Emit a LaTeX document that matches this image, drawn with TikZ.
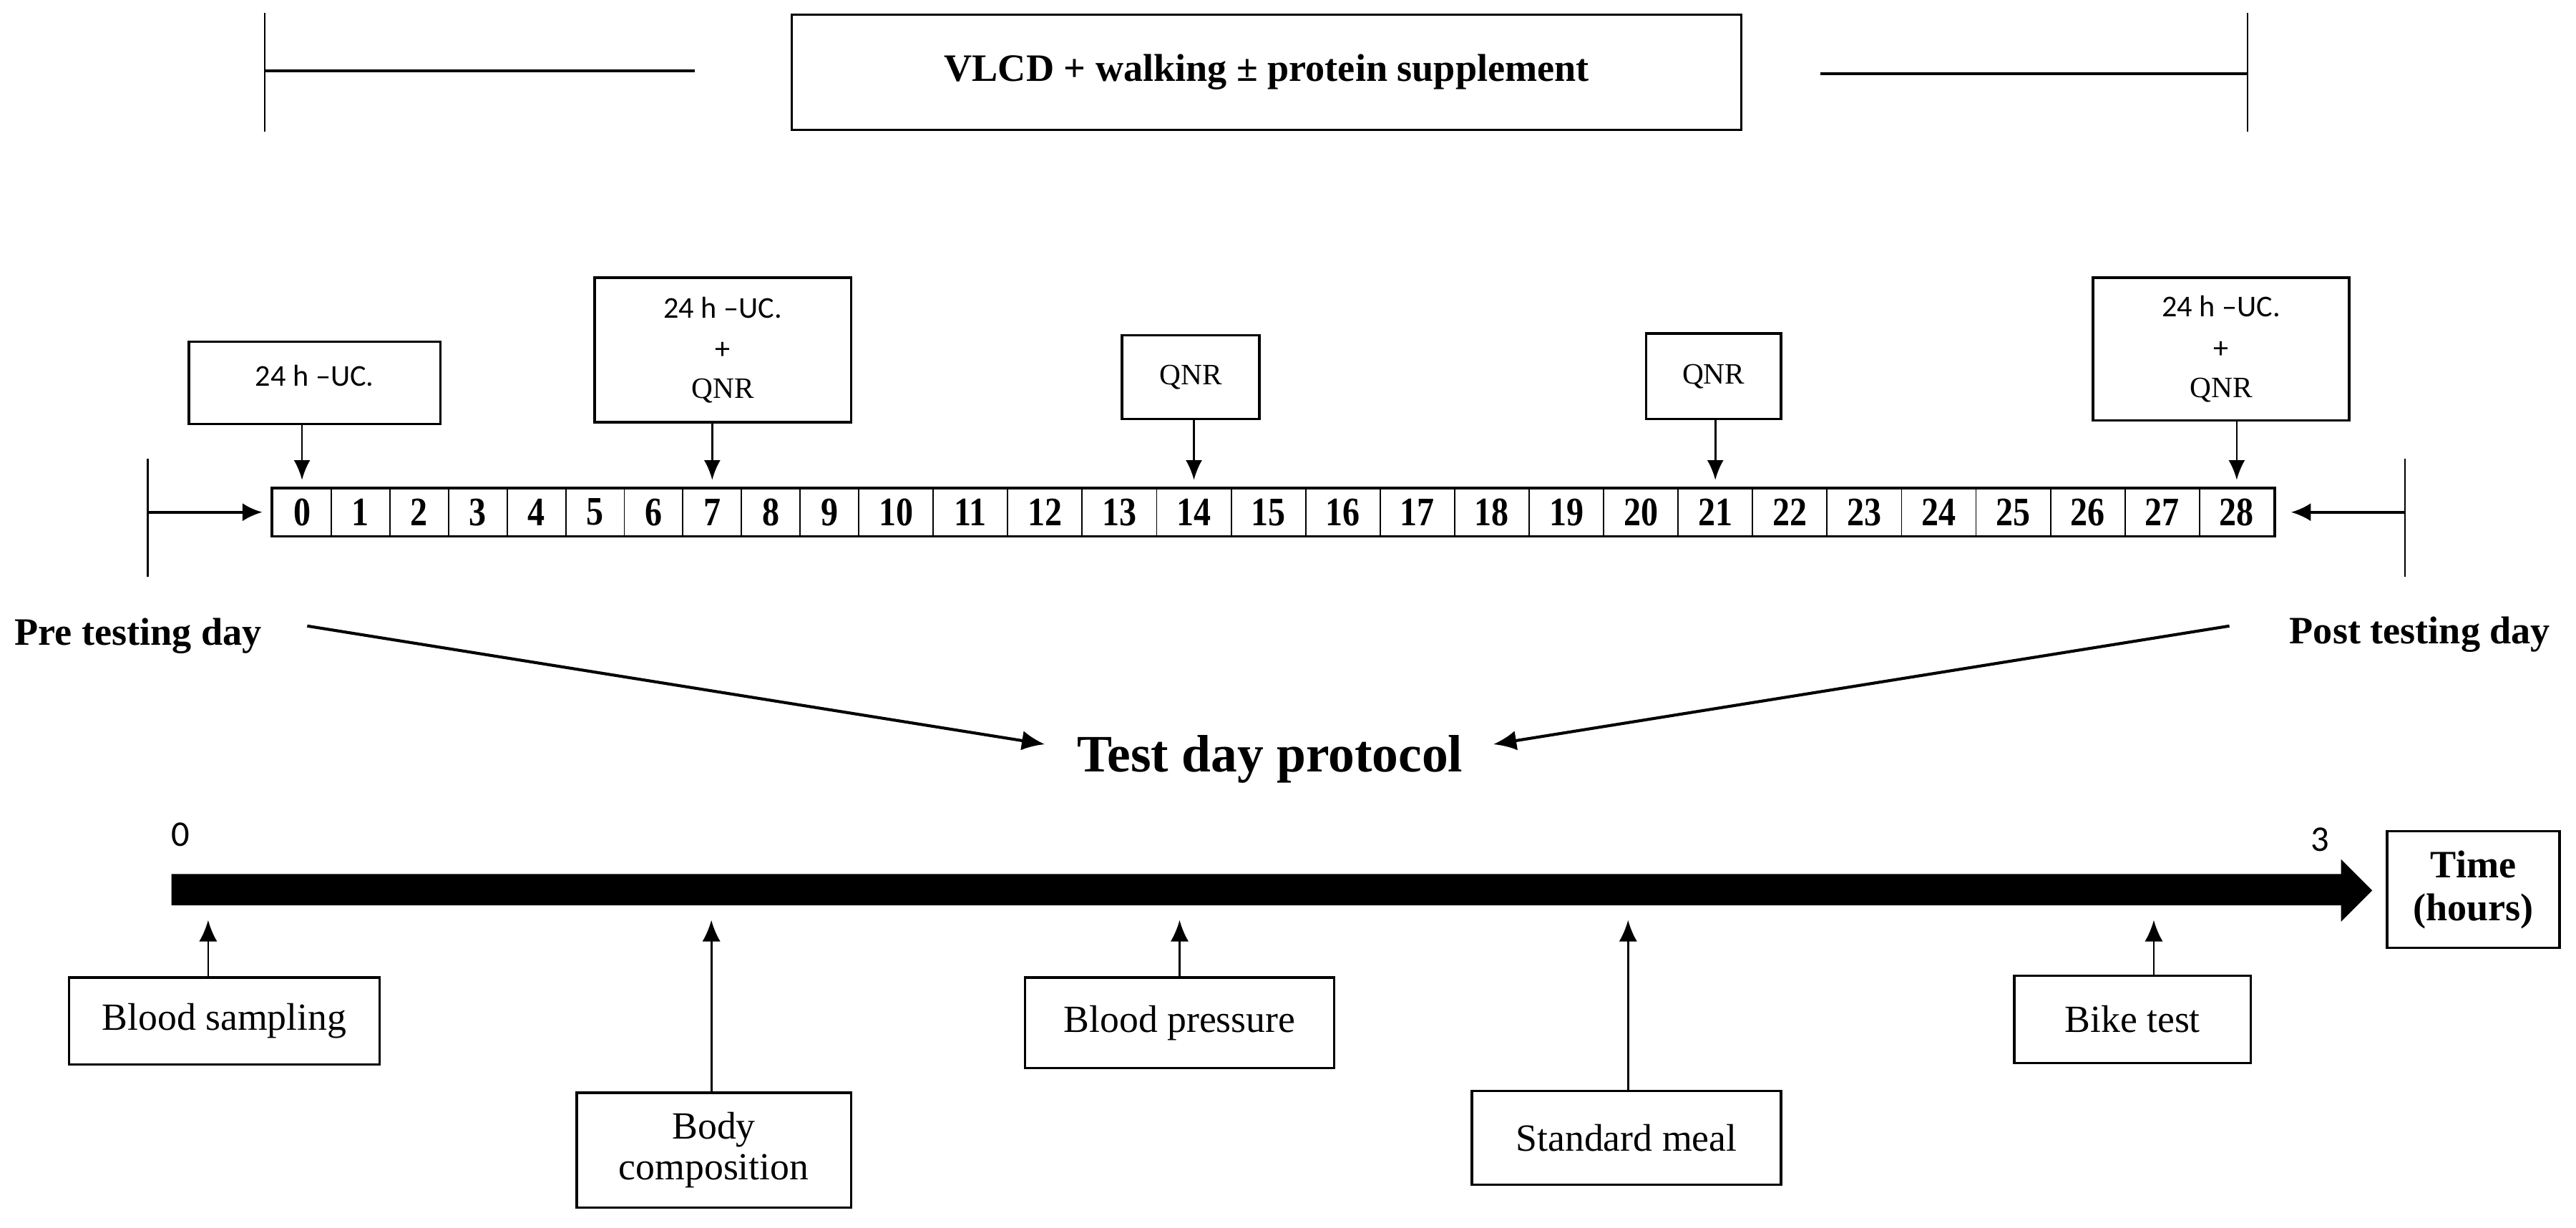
\documentclass[tikz,border=0pt]{standalone}
\usepackage{fontspec}
\setmainfont{Liberation Serif}
\newfontfamily\calfont{Carlito}
\newfontfamily\cellfont[FakeStretch=0.85]{Liberation Serif}
\usetikzlibrary{arrows.meta}
\begin{document}
\begin{tikzpicture}[x=0.5pt,y=-0.5pt,
  every node/.style={inner sep=0pt},
  box/.style={draw,line width=0.75pt,align=center},
  thinline/.style={line width=0.5pt},
  midline/.style={line width=0.8pt},
  arr/.style={line width=0.6pt,-{Latex[length=6pt,width=5pt]}},
  uparr/.style={line width=0.6pt,-{Latex[length=6.5pt,width=5.5pt]}},
  diag/.style={line width=0.9pt,-{Latex[length=7pt,width=6pt]}},
  tnr/.style={font=\fontsize{11.7pt}{12.5pt}\selectfont},
  tnrb/.style={font=\fontsize{11.8pt}{13pt}\selectfont\bfseries},
  cal/.style={font=\fontsize{9.2pt}{11.5pt}\selectfont\calfont},
  qnr/.style={font=\fontsize{9pt}{11.5pt}\selectfont},
  cell/.style={draw,line width=0.4pt,minimum height=14.25pt,font=\fontsize{12.3pt}{13pt}\selectfont\cellfont\bfseries}
]
\useasboundingbox (0,0) rectangle (1568,747);

% ---- top bracket ----
\node[box,minimum width=289pt,minimum height=35pt,tnrb] (vlcd) at (771,44) {VLCD + walking ± protein supplement};
\coordinate (tl1) at (161,8);  \coordinate (tl2) at (161,80);
\coordinate (tr1) at (1368,8); \coordinate (tr2) at (1368,80);
\draw[thinline] (tl1) -- (tl2);
\draw[thinline] (tr1) -- (tr2);
\coordinate (tlh) at (423,43); \coordinate (trh) at (1108,45);
\draw[midline] (tl1 |- tlh) -- (tlh);
\draw[midline] (trh) -- (tr1 |- trh);

% ---- upper boxes ----
\node[box,minimum width=76.5pt,minimum height=25pt,cal] (bA) at (191.5,233) {\raisebox{0pt}[\height][\dimexpr\depth+4.5pt]{24 h –UC.}};
\node[box,minimum width=78pt,minimum height=44pt] (bB) at (440,213)
  {{\calfont\fontsize{9.2pt}{11.5pt}\selectfont 24 h –UC.}\\[0.5pt]{\calfont\fontsize{9.2pt}{11.5pt}\selectfont +}\\{\fontsize{9pt}{11.5pt}\selectfont QNR}};
\node[box,minimum width=41.8pt,minimum height=25.5pt,qnr] (bC) at (724.8,229.5) {QNR};
\node[box,minimum width=41pt,minimum height=26pt,qnr] (bD) at (1043,229) {QNR};
\node[box,minimum width=78pt,minimum height=43.5pt] (bE) at (1352,212.5)
  {{\calfont\fontsize{9.2pt}{11.5pt}\selectfont 24 h –UC.}\\[0.5pt]{\calfont\fontsize{9.2pt}{11.5pt}\selectfont +}\\{\fontsize{9pt}{11.5pt}\selectfont QNR}};

% ---- day strip ----
\foreach \i in {0,...,9} {
  \pgfmathsetmacro\cx{166+35.67*(\i+0.5)}
  \node[cell,minimum width=17.83pt] (d\i) at (\cx,311.75) {\i};
}
\foreach \i in {10,...,28} {
  \pgfmathsetmacro\cx{522.7+45.34*(\i-9.5)}
  \node[cell,minimum width=22.67pt] (d\i) at (\cx,311.75) {\i};
}
\draw[midline] (d0.north west) rectangle (d28.south east);

\draw[arr] (bA.south -| d0.north) -- ([yshift=2.5pt]d0.north);
\draw[arr] (bB.south -| d7.north) -- ([yshift=2.5pt]d7.north);
\draw[arr] (bC.south -| d14.north) -- ([yshift=2.5pt]d14.north);
\draw[arr] (bD.south -| d21.north) -- ([yshift=2.5pt]d21.north);
\draw[arr] (bE.south -| d28.north) -- ([yshift=2.5pt]d28.north);

% ---- side brackets ----
\coordinate (lb1) at (90,279); \coordinate (lb2) at (90,351);
\coordinate (rb1) at (1464,279); \coordinate (rb2) at (1464,351);
\draw[thinline] (lb1) -- (lb2);
\draw[thinline] (rb1) -- (rb2);
\draw[midline,-{Latex[length=6pt,width=5.5pt]}] (lb1 |- d0.west) -- ([xshift=-3pt]d0.west);
\draw[midline,-{Latex[length=6pt,width=5.5pt]}] (rb1 |- d28.east) -- ([xshift=5pt]d28.east);

% ---- test day labels ----
\node[tnrb] (pre) at (84,387) {Pre testing day};
\node[tnrb] (post) at (1473,386) {Post testing day};
\node[font=\fontsize{16pt}{18pt}\selectfont\bfseries] (tdp) at (773,462) {Test day protocol};
\coordinate (preE) at (187,381); \coordinate (tdpL) at (636,453);
\coordinate (postE) at (1357,381); \coordinate (tdpR) at (909,453);
\draw[diag] (preE) -- (tdpL);
\draw[diag] (postE) -- (tdpR);

% ---- time axis ----
\fill (104.4,532) -- (1425,532) -- (1425,523) -- (1444,542) -- (1425,561) -- (1425,551) -- (104.4,551) -- cycle;
\node[font=\fontsize{11pt}{12pt}\selectfont\calfont] (t0) at (110,508) {0};
\node[font=\fontsize{11pt}{12pt}\selectfont\calfont] (t3) at (1412,511) {3};
\node[box,minimum width=52.5pt,minimum height=35.5pt,tnrb] (time) at (1505.5,541.5) {Time\\(hours)};

% ---- lower boxes ----
\node[box,minimum width=94.5pt,minimum height=26.5pt,tnr] (bs) at (136.5,621.5) {Blood sampling};
\node[box,minimum width=83.5pt,minimum height=35pt,tnr] (bc) at (434.5,700) {Body\\composition};
\node[box,minimum width=94pt,minimum height=27.5pt,tnr] (bp) at (718,622.5) {Blood pressure};
\node[box,minimum width=94pt,minimum height=28.5pt,tnr] (sm) at (990,692.5) {Standard meal};
\node[box,minimum width=72pt,minimum height=26.5pt,tnr] (bt) at (1298,620.5) {Bike test};

\coordinate (a1) at (126.7,560);
\coordinate (a2) at (433,560);
\coordinate (a3) at (718,560);
\coordinate (a4) at (991,560);
\coordinate (a5) at (1311,560);
\draw[uparr] (bs.north -| a1) -- (a1);
\draw[uparr] (bc.north -| a2) -- (a2);
\draw[uparr] (bp.north -| a3) -- (a3);
\draw[uparr] (sm.north -| a4) -- (a4);
\draw[uparr] (bt.north -| a5) -- (a5);
\end{tikzpicture}
\end{document}
